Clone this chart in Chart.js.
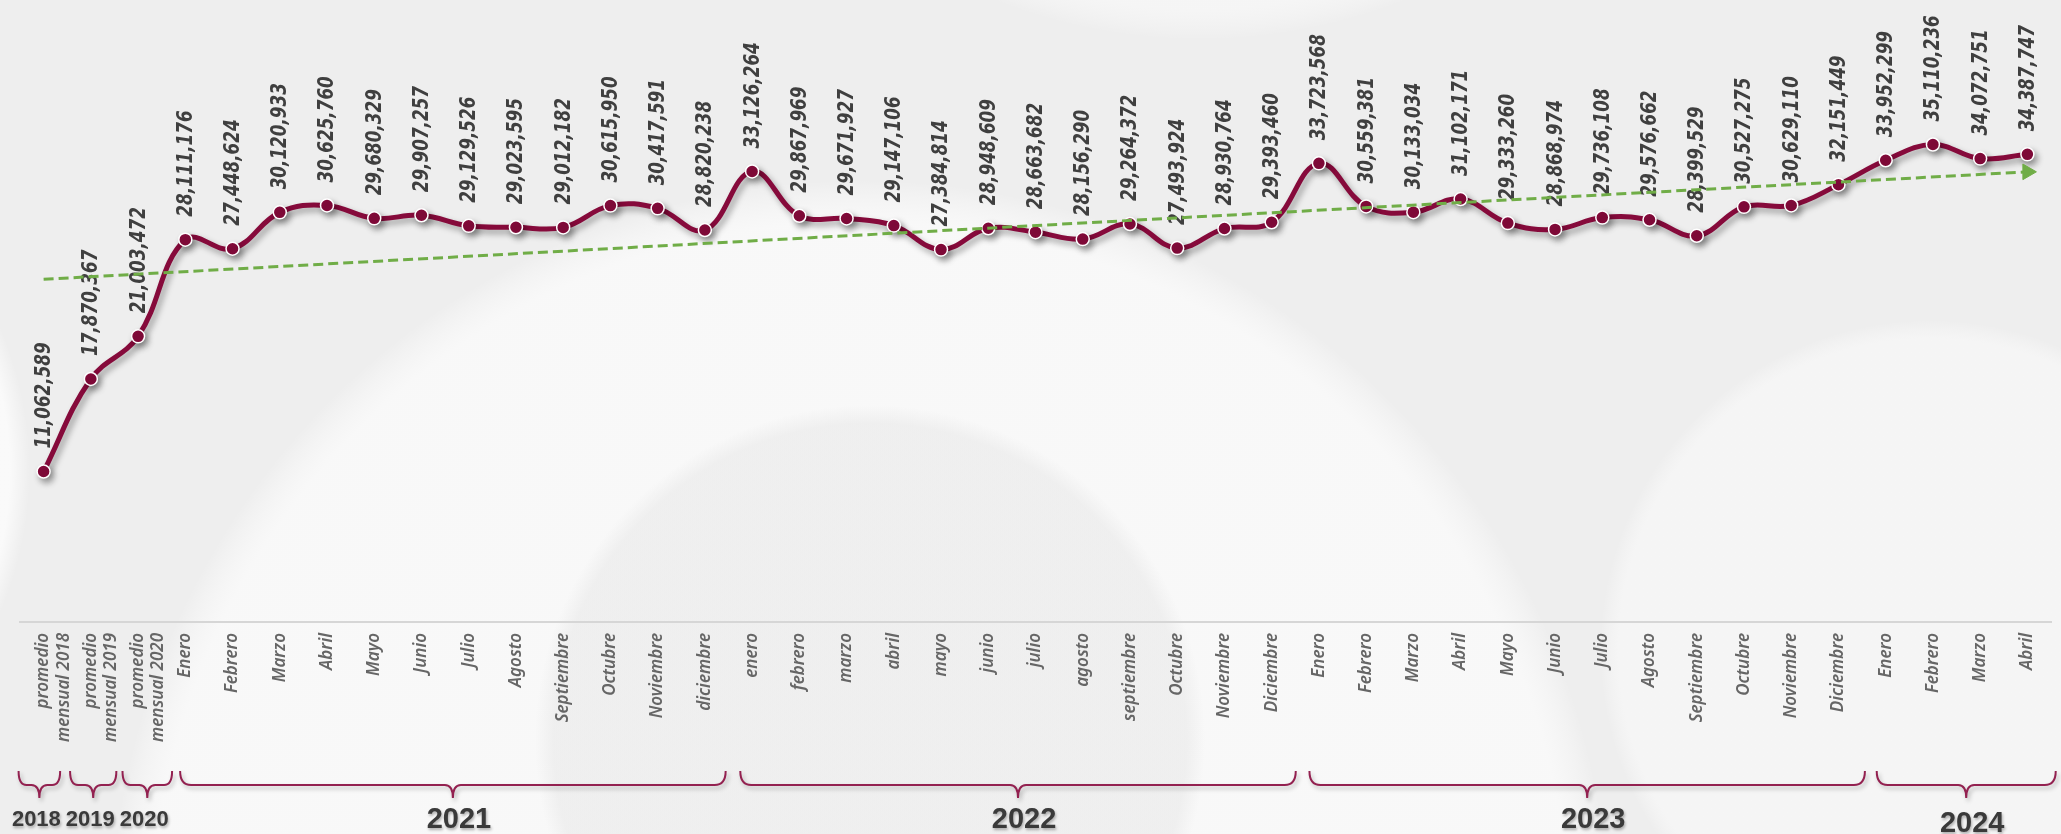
<!DOCTYPE html>
<html lang="es">
<head>
<meta charset="utf-8">
<title>Promedio mensual 2018-2024</title>
<script src="https://cdn.jsdelivr.net/npm/chart.js@4.4.1/dist/chart.umd.min.js"></script>
<style>
    html, body { margin: 0; padding: 0; background: #efefef; }
    #wrap { width: 2061px; height: 834px; position: relative; }
</style>
</head>
<body>
<div id="wrap"><canvas id="mainChart"></canvas></div>
<script>
// categories (x axis)
const categories = [
    ['promedio', 'mensual 2018'], ['promedio', 'mensual 2019'], ['promedio', 'mensual 2020'],
    'Enero', 'Febrero', 'Marzo', 'Abril', 'Mayo', 'Junio', 'Julio', 'Agosto', 'Septiembre', 'Octubre', 'Noviembre', 'diciembre',
    'enero', 'febrero', 'marzo', 'abril', 'mayo', 'junio', 'julio', 'agosto', 'septiembre', 'Octubre', 'Noviembre', 'Diciembre',
    'Enero', 'Febrero', 'Marzo', 'Abril', 'Mayo', 'Junio', 'Julio', 'Agosto', 'Septiembre', 'Octubre', 'Noviembre', 'Diciembre',
    'Enero', 'Febrero', 'Marzo', 'Abril'
];

// monthly values
const values = [
    11062589, 17870367, 21003472,
    28111176, 27448624, 30120933, 30625760, 29680329, 29907257, 29129526, 29023595, 29012182, 30615950, 30417591, 28820238,
    33126264, 29867969, 29671927, 29147106, 27384814, 28948609, 28663682, 28156290, 29264372, 27493924, 28930764, 29393460,
    33723568, 30559381, 30133034, 31102171, 29333260, 28868974, 29736108, 29576662, 28399529, 30527275, 30629110, 32151449,
    33952299, 35110236, 34072751, 34387747
];

// trend line ends
const trendStart = 25200000;
const trendEnd = 33100000;

// year brackets under the axis
const yearLabels = ['2018', '2019', '2020', '2021', '2022', '2023', '2024'];
const yearFirst = [0, 1, 2, 3, 15, 27, 39];
const yearLast = [0, 1, 2, 14, 26, 38, 42];

const MAROON = '#860a3b';
const GREEN = '#70ad47';

const trendData = values.map((v, i) => {
    if (i === 0) return trendStart;
    if (i === values.length - 1) return trendEnd;
    return null;
});

// soft decorative background
const backgroundPlugin = {
    id: 'bg',
    beforeDraw(chart) {
        const ctx = chart.ctx;
        const w = chart.width, h = chart.height;
        ctx.save();
        ctx.fillStyle = '#eeeeee';
        ctx.fillRect(0, 0, w, h);

        function disc(x, y, r, inner, outer) {
            const g = ctx.createRadialGradient(x, y, r * 0.2, x, y, r);
            g.addColorStop(0, inner);
            g.addColorStop(0.93, inner);
            g.addColorStop(1, outer);
            ctx.fillStyle = g;
            ctx.beginPath();
            ctx.arc(x, y, r, 0, Math.PI * 2);
            ctx.fill();
        }
        disc(860, 930, 750, 'rgba(250,250,250,0.85)', 'rgba(255,255,255,0)');
        disc(870, 740, 335, 'rgba(225,225,225,0.4)', 'rgba(225,225,225,0)');
        disc(1930, 650, 330, 'rgba(252,252,252,0.5)', 'rgba(255,255,255,0)');
        disc(-330, 470, 360, 'rgba(255,255,255,0.7)', 'rgba(255,255,255,0)');
        disc(1200, -520, 560, 'rgba(250,250,250,0.6)', 'rgba(255,255,255,0)');
        ctx.restore();
    }
};

// shadow under the main line, value labels right after it
const lineExtras = {
    id: 'lineExtras',
    beforeDatasetDraw(chart, args) {
        if (args.index !== 0) return;
        const ctx = chart.ctx;
        ctx.save();
        ctx.shadowColor = 'rgba(0,0,0,0.35)';
        ctx.shadowBlur = 6;
        ctx.shadowOffsetX = 3;
        ctx.shadowOffsetY = 4;
    },
    afterDatasetDraw(chart, args) {
        if (args.index !== 0) return;
        const ctx = chart.ctx;
        ctx.restore();

        ctx.save();
        ctx.fillStyle = '#3f3f3f';
        ctx.font = 'italic bold 21px "DejaVu Sans"';
        ctx.textAlign = 'left';
        ctx.textBaseline = 'middle';
        args.meta.data.forEach((pt, i) => {
            const txt = values[i].toLocaleString('en-US');
            ctx.save();
            ctx.translate(pt.x + 1, pt.y - 23);
            ctx.rotate(-Math.PI / 2);
            ctx.scale(0.8, 1);
            ctx.fillText(txt, 0, 0);
            ctx.restore();
        });
        ctx.restore();
    }
};

// curly brackets + year names
// bracket ends, in category units relative to the first / last month of each year
const bracketPad = [[-0.53, 0.35], [-0.44, 0.54], [-0.33, 0.72], [-0.11, 0.44], [-0.25, 0.51], [-0.2, 0.56], [-0.19, 0.6]];

const yearBrackets = {
    id: 'yearBrackets',
    afterDraw(chart) {
        const ctx = chart.ctx;
        const x = chart.scales.x;
        const top = 771, mid = 785, tip = 798;

        ctx.save();
        for (let i = 0; i < yearLabels.length; i++) {
            const single = yearFirst[i] === yearLast[i];
            const left = x.getPixelForValue(yearFirst[i] + bracketPad[i][0]);
            const right = x.getPixelForValue(yearLast[i] + bracketPad[i][1]);
            const c = (left + right) / 2;
            const r = single ? 8 : 11;

            ctx.save();
            ctx.shadowColor = 'rgba(0,0,0,0.25)';
            ctx.shadowBlur = 4;
            ctx.shadowOffsetX = 2;
            ctx.shadowOffsetY = 3;
            ctx.strokeStyle = '#932150';
            ctx.lineWidth = 2;
            ctx.beginPath();
            ctx.moveTo(left, top);
            ctx.quadraticCurveTo(left, mid, left + r, mid);
            ctx.lineTo(c - 8, mid);
            ctx.quadraticCurveTo(c, mid, c, tip);
            ctx.quadraticCurveTo(c, mid, c + 8, mid);
            ctx.lineTo(right - r, mid);
            ctx.quadraticCurveTo(right, mid, right, top);
            ctx.stroke();
            ctx.restore();

            ctx.save();
            ctx.shadowColor = 'rgba(0,0,0,0.3)';
            ctx.shadowBlur = 3;
            ctx.shadowOffsetX = 1;
            ctx.shadowOffsetY = 2;
            ctx.fillStyle = '#3a3a3a';
            ctx.font = single ? 'bold 22px "Liberation Sans"' : 'bold 29px "Liberation Sans"';
            ctx.textAlign = 'center';
            ctx.textBaseline = 'middle';
            const ty = i === yearLabels.length - 1 ? 824 : 820;
            ctx.fillText(yearLabels[i], single ? c - 3 : c + 6, ty);
            ctx.restore();
        }
        ctx.restore();
    }
};

document.addEventListener('DOMContentLoaded', () => {
    mainChart();
});

function mainChart() {
    const ctx = document.getElementById('mainChart');
    if (!ctx) return;

    new Chart(ctx, {
        type: 'line',
        data: {
            labels: categories,
            datasets: [{
                label: 'Promedio',
                data: values,
                order: 1,
                borderColor: MAROON,
                borderWidth: 5,
                backgroundColor: MAROON,
                pointRadius: 6.5,
                pointBackgroundColor: MAROON,
                pointBorderColor: '#ffffff',
                pointBorderWidth: 1.5,
                tension: 0.4,
                fill: false
            }, {
                label: 'Tendencia',
                data: trendData,
                order: 0,
                spanGaps: true,
                borderColor: GREEN,
                borderWidth: 3,
                borderDash: [10, 5],
                tension: 0,
                pointStyle: 'triangle',
                pointRotation: 90,
                pointRadius: trendData.map((v, i) => i === trendData.length - 1 ? 9 : 0),
                pointBackgroundColor: GREEN,
                pointBorderColor: GREEN,
                pointBorderWidth: 1,
                fill: false
            }]
        },
        options: {
            responsive: true,
            maintainAspectRatio: false,
            animation: false,
            devicePixelRatio: 1,
            layout: {
                padding: { top: 6, left: 20, right: 0, bottom: 0 }
            },
            plugins: {
                legend: { display: false },
                tooltip: { enabled: false }
            },
            scales: {
                x: {
                    offset: true,
                    grid: { display: false, drawTicks: false },
                    border: { display: true, color: '#d6d6d6', width: 2 },
                    ticks: {
                        autoSkip: false,
                        minRotation: 90,
                        maxRotation: 90,
                        padding: 11,
                        color: '#666666',
                        font: { family: '"Noto Sans"', size: 17, style: 'italic', weight: '600', lineHeight: 1.2 }
                    },
                    afterFit(scale) {
                        scale.height = 212;
                    }
                },
                y: {
                    display: false,
                    min: 0,
                    max: 45000000
                }
            }
        },
        plugins: [backgroundPlugin, lineExtras, yearBrackets]
    });
}
</script>
</body>
</html>
